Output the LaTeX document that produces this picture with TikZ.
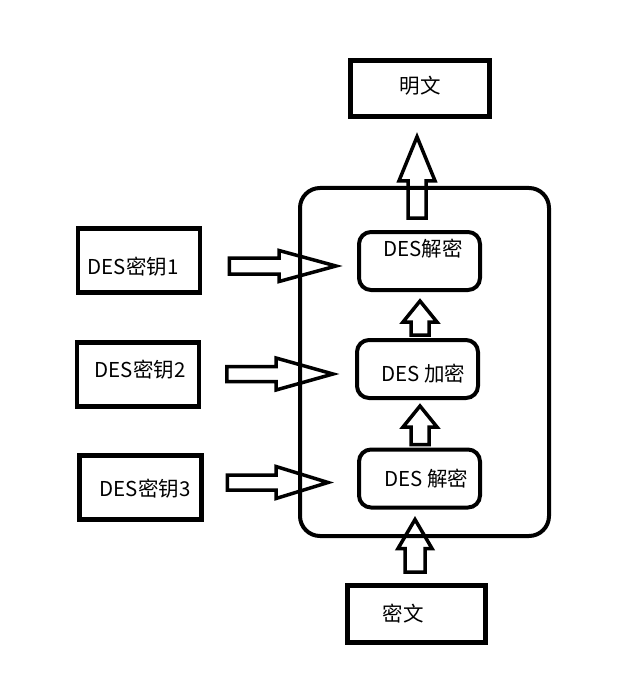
\documentclass[tikz,border=0pt]{standalone}
\usepackage{fontspec}
\setmainfont{Noto Sans CJK SC}
\usetikzlibrary{calc}

% hollow block arrows: base, tip, shaft half width, head half width, head length
\newcommand{\blkup}[5]{%
  \draw[blockarrow] let \p1=(#1), \p2=(#2) in
    (\x1-#3,\y1) -- (\x1-#3,\y2-#5) -- (\x1-#4,\y2-#5) -- (\x1,\y2)
    -- (\x1+#4,\y2-#5) -- (\x1+#3,\y2-#5) -- (\x1+#3,\y1) -- cycle;}
\newcommand{\blkright}[5]{%
  \draw[blockarrow] let \p1=(#1), \p2=(#2) in
    (\x1,\y1+#3) -- (\x2-#5,\y1+#3) -- (\x2-#5,\y1+#4) -- (\x2,\y1)
    -- (\x2-#5,\y1-#4) -- (\x2-#5,\y1-#3) -- (\x1,\y1-#3) -- cycle;}

\begin{document}
\begin{tikzpicture}[x=1pt,y=-1pt]
    \tikzstyle{plainbox}=[draw, line width=4.6pt, inner sep=0pt]
    \tikzstyle{stagebox}=[draw, line width=4pt, rounded corners=12pt, inner sep=0pt,
                          minimum width=121pt, minimum height=58pt]
    \tikzstyle{blockarrow}=[draw, line width=3.5pt, line join=miter]
    \tikzstyle{lbl}=[inner sep=0pt, font=\fontsize{20.5pt}{24pt}\selectfont]

    \useasboundingbox (0,0) rectangle (619,676);

    % the outer frame
    \node[draw, line width=4pt, rounded corners=20pt, minimum width=249pt,
          minimum height=348pt] (frame) at (424.5,362) {};

    % plain and cipher text
    \node[plainbox, minimum width=139pt, minimum height=56pt] (plain) at (420,88.5) {};
    \node[lbl] (plain-t) at (420,86) {明文};
    \node[plainbox, minimum width=138pt, minimum height=57pt] (cipher) at (416.5,614) {};
    \node[lbl] (cipher-t) at (403,614) {密文};

    % the three DES stages
    \node[stagebox] (D-1) at (419.5,261) {};
    \node[lbl] (D-1-t) at (423,249) {DES解密};
    \node[stagebox] (E) at (417.5,369) {};
    \node[lbl] (E-t) at (423,374) {DES 加密};
    \node[stagebox] (D-2) at (419.5,478.5) {};
    \node[lbl] (D-2-t) at (426,479) {DES 解密};

    % the keys
    \foreach \name / \x / \y / \tx / \ty in {1/139/260.5/133/267, 2/138/374.5/140/370, 3/140.5/487.5/145/489}{
      \node[plainbox, minimum width=122pt, minimum height=64pt] (K-\name) at (\x,\y) {};
      \node[lbl] (K-\name-t) at (\tx,\ty) {DES密钥\name};
    }

    % key arrows
    \blkright{$(K-1.east)+(27pt,-5.5pt)$}{$(D-1.west)+(-21pt,0pt)$}{8pt}{15.5pt}{57pt}
    \blkright{$(K-2.east)+(25.5pt,0.5pt)$}{$(E.west)+(-22pt,0pt)$}{7.5pt}{16pt}{57pt}
    \blkright{$(K-3.east)+(23.5pt,5pt)$}{$(D-2.west)+(-29pt,0pt)$}{7.5pt}{16pt}{52pt}

    % data flow
    \blkup{$(cipher.north)+(-1.5pt,11pt)$}{$(D-2.south)+(0pt,-10pt)$}{10pt}{17pt}{29pt}
    \blkup{$(D-2.north)+(0.5pt,3pt)$}{$(E.south)+(0pt,-6pt)$}{9pt}{17pt}{21pt}
    \blkup{$(E.north)+(2.5pt,3pt)$}{$(D-1.south)+(0pt,-9pt)$}{9pt}{17pt}{21pt}
    \blkup{$(D-1.north)+(-2.5pt,12pt)$}{$(plain.south)+(0pt,-18pt)$}{9pt}{18pt}{44pt}
\end{tikzpicture}
\end{document}
